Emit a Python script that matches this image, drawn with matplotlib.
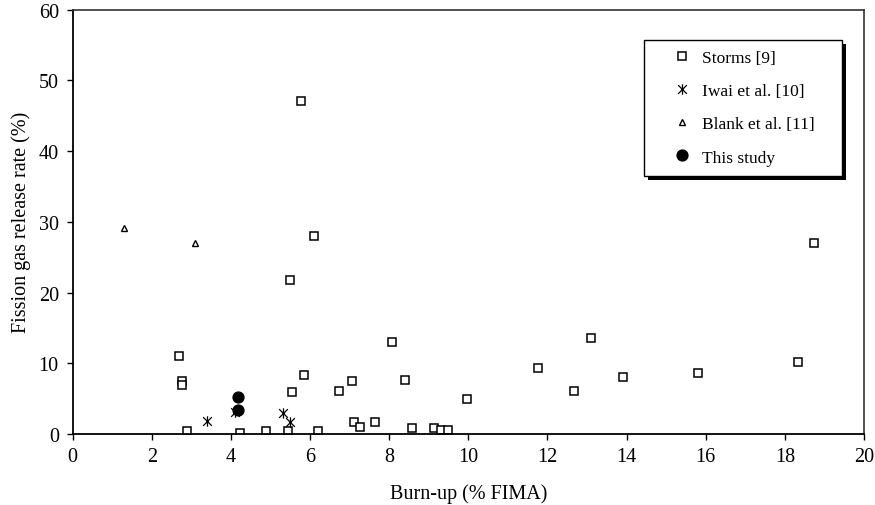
import matplotlib.pyplot as plt
from matplotlib.patches import Rectangle
from matplotlib.path import Path
from matplotlib.transforms import IdentityTransform

# Fission gas release vs burn-up
storms_burnup = [2.69, 2.77, 2.77, 2.89, 4.24, 4.88, 5.45, 5.49, 5.54, 5.78, 5.84, 6.10,
                 6.19, 6.74, 7.07, 7.10, 7.27, 7.65, 8.06, 8.40, 8.58, 9.13, 9.32, 9.49,
                 9.97, 11.77, 12.68, 13.10, 13.90, 15.80, 18.34, 18.73]
storms_fgr = [11.1, 7.45, 7.0, 0.38, 0.14, 0.38, 0.38, 21.8, 5.98, 47.1, 8.35, 28.0,
              0.38, 6.08, 7.45, 1.65, 0.94, 1.65, 12.97, 7.59, 0.9, 0.9, 0.57, 0.57,
              4.95, 9.29, 6.04, 13.58, 8.02, 8.58, 10.23, 27.06]

iwai_burnup = [3.39, 4.09, 5.31, 5.50]
iwai_fgr = [1.88, 3.07, 2.92, 1.74]

blank_burnup = [1.30, 3.10]
blank_fgr = [29.1, 27.0]

study_burnup = [4.19, 4.19]
study_fgr = [5.28, 3.39]

x_ticks = [0, 2, 4, 6, 8, 10, 12, 14, 16, 18, 20]
y_ticks = [0, 10, 20, 30, 40, 50, 60]

plt.rcParams.update({
    "font.family": ["Liberation Serif", "DejaVu Serif"],
    "font.size": 14.5,
})

# X plus vertical bar, like the spreadsheet "star" marker
star = Path([(-1, -1), (1, 1), (-1, 1), (1, -1), (0, -1.2), (0, 1.2)],
            [Path.MOVETO, Path.LINETO, Path.MOVETO, Path.LINETO, Path.MOVETO, Path.LINETO])

fig = plt.figure(figsize=(8.75, 5.06), dpi=100)
ax = fig.add_axes([0.0831, 0.1403, 0.9043, 0.8386])

ax.plot(storms_burnup, storms_fgr, ls="none", marker="s", ms=5.3, mfc="white",
        mec="black", mew=1.1, label="Storms [9]")
ax.plot(iwai_burnup, iwai_fgr, ls="none", marker=star, ms=7.5, mfc="none",
        mec="black", mew=0.9, label="Iwai et al. [10]")
ax.plot(blank_burnup, blank_fgr, ls="none", marker="^", ms=5, mfc="white",
        mec="black", mew=1.0, label="Blank et al. [11]")
ax.plot(study_burnup, study_fgr, ls="none", marker="o", ms=7.8, mfc="black",
        mec="black", label="This study")

ax.set_xlim(0, 20)
ax.set_ylim(0, 60)
ax.set_xticks(x_ticks)
ax.set_yticks(y_ticks)
ax.tick_params(direction="out", length=4.5, width=1.0, colors="black")
ax.tick_params(axis="x", pad=5)
ax.tick_params(axis="y", pad=5.5)

for side in ("left", "bottom"):
    ax.spines[side].set_linewidth(1.3)
    ax.spines[side].set_color("black")
for side in ("top", "right"):
    ax.spines[side].set_linewidth(1.2)
    ax.spines[side].set_color("#333333")

ax.set_xlabel("Burn-up (% FIMA)", labelpad=12.5)
ax.set_ylabel("Fission gas release rate (%)", labelpad=5.5)

leg = ax.legend(loc="upper left", bbox_to_anchor=(0.722, 0.62, 0.25, 0.309),
                mode="expand", borderaxespad=0, frameon=True, fancybox=False,
                framealpha=1, facecolor="white", edgecolor="black",
                labelspacing=0.98, handletextpad=-0.47, borderpad=0.58,
                handlelength=3.23, fontsize=12.5)
leg.get_frame().set_linewidth(1.0)

# solid black drop shadow behind the legend box
fig.canvas.draw()
box = leg.get_window_extent()
ax.add_patch(Rectangle((box.x0 + 4, box.y0 - 4), box.width, box.height,
                       transform=IdentityTransform(), facecolor="black",
                       edgecolor="none", zorder=4.9, clip_on=False))

fig.savefig("out.png", dpi=100)
